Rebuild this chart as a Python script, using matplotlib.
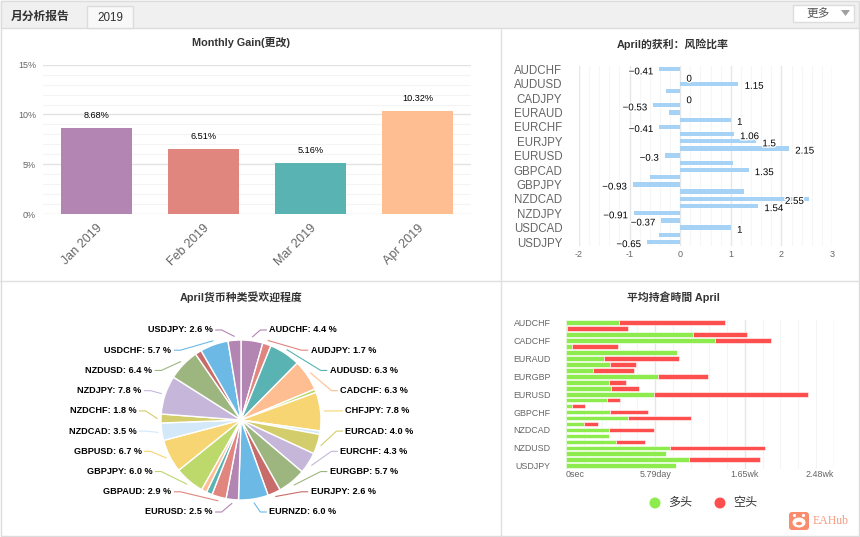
import matplotlib
matplotlib.use('Agg')
import matplotlib.pyplot as plt
import matplotlib.patheffects as pe
from matplotlib.patches import Rectangle, FancyBboxPatch, Circle, Ellipse, Polygon
import numpy as np

plt.rcParams['font.family'] = ['Liberation Sans', 'Noto Sans CJK SC']

# monthly gain
months = ['Jan 2019', 'Feb 2019', 'Mar 2019', 'Apr 2019']
gains = [8.68, 6.51, 5.16, 10.32]

# currency pairs used by the three April charts
pairs = ['AUDCHF', 'AUDJPY', 'AUDUSD', 'CADCHF', 'CADJPY', 'CHFJPY', 'EURAUD',
         'EURCAD', 'EURCHF', 'EURGBP', 'EURJPY', 'EURNZD', 'EURUSD', 'GBPAUD',
         'GBPCAD', 'GBPCHF', 'GBPJPY', 'GBPUSD', 'NZDCAD', 'NZDCHF', 'NZDJPY',
         'NZDUSD', 'USDCAD', 'USDCHF', 'USDJPY']

# profit : risk ratio
risk_ratio = [-0.41, 0, 1.15, -0.29, 0, -0.53, -0.22, 1, -0.41, 1.06, 1.5, 2.15,
              -0.3, 1.04, 1.35, -0.59, -0.93, 1.27, 2.55, 1.54, -0.91, -0.37,
              1, -0.41, -0.65]
hidden_labels = ['CADCHF', 'EURAUD', 'GBPAUD', 'GBPCHF', 'GBPUSD', 'USDCHF']

# popularity (%)
popularity = [4.4, 1.7, 6.3, 6.3, 0.7, 7.8, 0.7, 4.0, 4.3, 5.7, 2.6, 6.0, 2.5,
              2.9, 1.2, 1.1, 6.0, 6.7, 3.5, 1.8, 7.8, 6.4, 1.3, 5.7, 2.6]

# average holding time (days)
long_days = [3.46, 0.07, 8.25, 9.68, 0.39, 7.19, 2.48, 2.87, 1.77, 5.98, 2.76,
             2.94, 5.72, 2.68, 0.39, 2.87, 4.04, 1.19, 2.81, 2.79, 3.26, 6.72,
             6.48, 7.95, 7.13]
short_days = [6.85, 3.95, 3.48, 3.61, 2.98, 0, 4.84, 1.66, 2.63, 3.22, 1.12,
              1.79, 9.96, 0.82, 0.84, 2.44, 4.06, 0.89, 2.89, 0, 1.86, 6.18,
              0, 4.62, 0]
hold_ticks = [0, 5.79, 11.58, 17.37]
hold_ticklabels = ['0sec', '5.79day', '1.65wk', '2.48wk']

palette = ['#b385b3', '#e1857f', '#5ab3b3', '#ffbe91', '#bdd86b', '#f6d572',
           '#d3e8f8', '#d3cd6b', '#c6b7da', '#9db67f', '#c86b6b', '#6cb9e6']

W, H = 860, 537
fig = plt.figure(figsize=(W / 100, H / 100), dpi=100)


def px_axes(x0, y0, x1, y1):
    ax = fig.add_axes([x0 / W, 1 - y1 / H, (x1 - x0) / W, (y1 - y0) / H])
    ax.set_facecolor('none')
    return ax


# background, header, frame
bg = fig.add_axes([0, 0, 1, 1])
bg.set_xlim(0, W)
bg.set_ylim(H, 0)
bg.axis('off')
bg.add_patch(Rectangle((0.5, 0.5), W - 1.5, H - 1.5, fc='white', ec='#dcdcdc', lw=1))
bg.add_patch(Rectangle((0.5, 0.5), W - 1.5, 27, fc='#f0f0f0', ec='#dcdcdc', lw=1))
bg.add_patch(Rectangle((87, 6), 46, 22, fc='#f8f8f8', ec='#dcdcdc', lw=1))
bg.text(11, 17, '月分析报告', fontsize=8.5, fontweight='bold', color='#333333', va='center')
bg.text(110, 18, '2019', fontsize=8.4, color='#333333', ha='center', va='center')
bg.add_patch(Rectangle((793, 5), 61, 17, fc='white', ec='#dcdcdc', lw=1))
bg.text(806, 13.5, '更多', fontsize=8.4, color='#555555', va='center')
bg.add_patch(Polygon([(841, 10), (850, 10), (845.5, 16)], fc='#a0a0a0', ec='none'))
bg.plot([501, 501], [28, H], color='#e0e0e0', lw=1)
bg.plot([0, W], [281, 281], color='#e0e0e0', lw=1)

title_kw = dict(ha='center', va='center', fontsize=7.8, fontweight='bold', color='#333333')
bg.text(241, 43, 'Monthly Gain(更改)', **title_kw)
bg.text(673, 44, 'April的获利：风险比率', **title_kw)
bg.text(241, 297, 'April货币种类受欢迎程度', **title_kw)
bg.text(673, 297, '平均持倉時間 April', **title_kw)

# monthly gain bars
ax1 = px_axes(43, 64.7, 471, 214)
x = np.arange(len(months))
ax1.bar(x, gains, width=0.655, color=palette[:4], zorder=2)
for xi, g in zip(x, gains):
    ax1.annotate(f'{g:.2f}%', (xi, g), xytext=(0, 9), textcoords='offset points',
                 ha='center', va='center', fontsize=6.6, color='black')
ax1.set_xlim(-0.5, 3.5)
ax1.set_ylim(0, 15)
ax1.set_yticks([0, 5, 10, 15])
ax1.set_yticklabels(['0%', '5%', '10%', '15%'], fontsize=6.5, color='#666666')
ax1.set_yticks(np.arange(0, 16, 1), minor=True)
ax1.grid(axis='y', which='minor', color='#f4f4f4', lw=0.8, zorder=0)
ax1.grid(axis='y', which='major', color='#e3e3e3', lw=1, zorder=0)
ax1.set_xticks(x)
ax1.set_xticklabels(months, rotation=45, ha='right', rotation_mode='anchor',
                    fontsize=9, color='#666666')
ax1.tick_params(which='both', length=0)
ax1.tick_params(axis='y', pad=5)
ax1.tick_params(axis='x', pad=6)
for s in ax1.spines.values():
    s.set_visible(False)

# risk ratio bars
ax2 = px_axes(579, 65.7, 832, 245.6)
yy = np.arange(len(pairs))
ax2.barh(yy, risk_ratio, height=0.6, color='#a6d3f5', zorder=2)
ax2.set_xlim(-2, 3)
ax2.set_ylim(len(pairs) - 0.5, -0.5)
ax2.set_yticks(yy[::2])
ax2.set_yticklabels(pairs[::2], fontsize=8.3, color='#666666')
ax2.set_xticks(range(-2, 4))
ax2.set_xticklabels([str(v) for v in range(-2, 4)], fontsize=6.5, color='#666666')
ax2.set_xticks(np.arange(-2, 3.01, 0.2), minor=True)
ax2.grid(axis='x', which='minor', color='#f6f6f6', lw=0.8, zorder=0)
ax2.grid(axis='x', which='major', color='#e6e6e6', lw=1, zorder=0)
ax2.tick_params(which='both', length=0)
ax2.tick_params(axis='y', pad=12)
ax2.tick_params(axis='x', pad=3)
for s in ax2.spines.values():
    s.set_visible(False)
outline = [pe.withStroke(linewidth=2, foreground='white')]
for i, (p, v) in enumerate(zip(pairs, risk_ratio)):
    if p in hidden_labels:
        continue
    if v < 0:
        ha, dx = 'right', -4.5
    elif v > 2.4:
        ha, dx = 'right', -4
    else:
        ha, dx = 'left', 4.5
    ax2.annotate(f'{v:g}'.replace('-', '\u2212'), (v, i), xytext=(dx, -1.5),
                 textcoords='offset points', ha=ha, va='center', fontsize=7,
                 color='black', path_effects=outline, zorder=3)

# popularity pie
ax3 = px_axes(0, 282, 500, 537)
cx, cy, r = 241, 117, 80
pie_colors = [palette[i % len(palette)] for i in range(len(popularity))]
ax3.pie(popularity, colors=pie_colors, startangle=90, counterclock=False,
        center=(cx, cy), radius=r, wedgeprops=dict(edgecolor='white', linewidth=1))
ax3.set_xlim(0, 500)
ax3.set_ylim(0, 255)
ax3.axis('off')

shares = np.array(popularity)
cum = np.concatenate([[0], np.cumsum(shares)[:-1]])
mids = np.deg2rad(90 - 360 * (cum + shares / 2) / shares.sum())
labeled = [i for i in range(len(shares)) if shares[i] >= 1.5]
right = [i for i in labeled if np.cos(mids[i]) > 0]
left = [i for i in reversed(labeled) if np.cos(mids[i]) <= 0]
for side, idxs in (('r', right), ('l', left)):
    slots = np.linspace(330, 512, len(idxs))
    for i, py in zip(idxs, slots):
        Y = H - py
        dx = 105 * np.sqrt(max(0.0, 1 - ((py - 421) / 94.5) ** 2))
        ex = cx + (r + 4) * np.cos(mids[i])
        ey = cy + (r + 4) * np.sin(mids[i])
        if side == 'r':
            xl = cx + dx
            ax3.plot([xl - 3, xl - 9, ex], [Y, Y, ey], color=pie_colors[i], lw=0.8)
            ax3.text(xl, Y, f'{pairs[i]}: {shares[i]:.1f} %', ha='left', va='center',
                     fontsize=6.6, fontweight='bold', color='black')
        else:
            xl = cx - dx
            ax3.plot([xl + 3, xl + 9, ex], [Y, Y, ey], color=pie_colors[i], lw=0.8)
            ax3.text(xl, Y, f'{pairs[i]}: {shares[i]:.1f} %', ha='right', va='center',
                     fontsize=6.6, fontweight='bold', color='black')

# holding time stacked bars
ax4 = px_axes(566, 319.7, 834, 468.7)
ax4.barh(yy, long_days, height=0.78, color='#8deb4e', edgecolor='white', lw=0.4, zorder=2)
ax4.barh(yy, short_days, left=long_days, height=0.78, color='#fe4f4f',
         edgecolor='white', lw=0.4, zorder=2)
ax4.set_xlim(0, hold_ticks[-1])
ax4.set_ylim(len(pairs) - 0.5, -0.5)
ax4.set_yticks(yy[::3])
ax4.set_yticklabels(pairs[::3], fontsize=6.4, color='#666666')
ax4.set_xticks(hold_ticks)
ax4.set_xticklabels(hold_ticklabels, fontsize=6.4, color='#666666')
ax4.get_xticklabels()[0].set_ha('left')
ax4.get_xticklabels()[-1].set_ha('right')
ax4.set_xticks(np.arange(0, hold_ticks[-1] + 0.01, hold_ticks[1] / 5), minor=True)
ax4.grid(axis='x', which='minor', color='#f4f4f4', lw=0.8, zorder=0)
ax4.grid(axis='x', which='major', color='#e6e6e6', lw=1, zorder=0)
ax4.tick_params(which='both', length=0)
ax4.tick_params(axis='y', pad=11)
ax4.tick_params(axis='x', pad=1)
for s in ax4.spines.values():
    s.set_visible(False)

# legend for holding time
bg.add_patch(Circle((655, 503), 5.5, fc='#8deb4e', ec='none'))
bg.text(668, 503.5, '多头', fontsize=8.7, color='#333333', va='center')
bg.add_patch(Circle((720, 503), 5.5, fc='#fe4f4f', ec='none'))
bg.text(733, 503.5, '空头', fontsize=8.7, color='#333333', va='center')

# watermark
bg.add_patch(FancyBboxPatch((789, 512), 20, 18, boxstyle='round,pad=0,rounding_size=3',
                            fc='#fa8c6e', ec='none'))
bg.add_patch(Ellipse((799, 522.5), 13, 10, fc='white', ec='none'))
bg.add_patch(Circle((794.5, 515.5), 1.6, fc='white', ec='none'))
bg.add_patch(Circle((803.5, 515.5), 1.6, fc='white', ec='none'))
bg.add_patch(Ellipse((799, 523.5), 6, 3.5, fc='#fa8c6e', ec='none'))
bg.text(813, 521.5, 'EAHub', fontsize=8.5, family='Liberation Serif', color='#f79a7e',
        va='center')

fig.savefig('out.png', dpi=100)
